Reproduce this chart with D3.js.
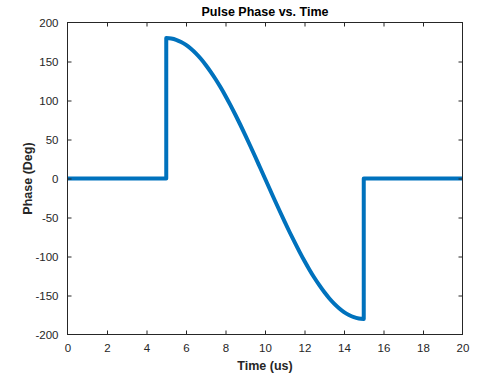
<!DOCTYPE html>
<html>
<head>
<meta charset="utf-8">
<script src="https://cdn.jsdelivr.net/npm/d3@7"></script>
<style>
  html, body { margin: 0; padding: 0; background: #fff; }
  svg { display: block; font-family: "Liberation Sans", Arial, Helvetica, sans-serif; }
</style>
</head>
<body>
<svg id="chart" width="478" height="373"></svg>
<script>
// Pulse phase samples (time in microseconds, phase in degrees)
const time = [0, 5, 5, 5.25, 5.5, 5.75, 6, 6.25, 6.5, 6.75, 7, 7.25, 7.5, 7.75, 8, 8.25, 8.5, 8.75, 9, 9.25, 9.5, 9.75,
              10, 10.25, 10.5, 10.75, 11, 11.25, 11.5, 11.75, 12, 12.25, 12.5, 12.75, 13, 13.25, 13.5, 13.75, 14, 14.25, 14.5, 14.75, 15, 15, 20];
const phase = [0, 0, 180, 179.4, 177.8, 175.0, 171.2, 166.3, 160.4, 153.5, 145.6, 136.8, 127.3, 116.9, 105.8, 94.0, 81.7, 68.9, 55.6, 42.0, 28.2, 14.1,
               0, -14.1, -28.2, -42.0, -55.6, -68.9, -81.7, -94.0, -105.8, -116.9, -127.3, -136.8, -145.6, -153.5, -160.4, -166.3, -171.2, -175.0, -177.8, -179.4, -180, 0, 0];
const xTicks = [0, 2, 4, 6, 8, 10, 12, 14, 16, 18, 20];
const yTicks = [-200, -150, -100, -50, 0, 50, 100, 150, 200];

const svg = d3.select("#chart");
const plotLeft = 67.5, plotRight = 462.5, plotTop = 22.5, plotBottom = 334.5;
const axisColor = "#262626";

const x = d3.scaleLinear().domain([0, 20]).range([plotLeft, plotRight]);
const y = d3.scaleLinear().domain([-200, 200]).range([plotBottom, plotTop]);

// Data line, clipped to the axes box: straight steps, smooth phase sweep in between
svg.append("clipPath").attr("id", "box")
  .append("rect").attr("x", plotLeft).attr("y", plotTop)
  .attr("width", plotRight - plotLeft).attr("height", plotBottom - plotTop);

const pts = time.map((t, i) => [t, phase[i]]);
const sweepStart = 2, sweepEnd = pts.length - 3;  // first/last samples of the sweep
const straight = d3.line().x(d => x(d[0])).y(d => y(d[1]));
const smooth = d3.line().x(d => x(d[0])).y(d => y(d[1])).curve(d3.curveMonotoneX);
const pathD =
  straight(pts.slice(0, sweepStart + 1)) +
  smooth(pts.slice(sweepStart, sweepEnd + 1)).replace(/^M/, "L") +
  straight(pts.slice(sweepEnd)).replace(/^M/, "L");

svg.append("path")
  .attr("clip-path", "url(#box)")
  .attr("fill", "none")
  .attr("stroke", "#0072BD")
  .attr("stroke-width", 4)
  .attr("stroke-linejoin", "round")
  .attr("d", pathD);

// Axes with inward ticks on all four sides
const plain = d => String(d);
function styleAxis(g) {
  g.select(".domain").remove();
  g.selectAll(".tick line").attr("stroke", axisColor);
  g.selectAll(".tick text").attr("fill", axisColor).style("font-size", "11.5px");
}

svg.append("g").attr("transform", `translate(0,${plotBottom})`)
  .call(d3.axisBottom(x).tickValues(xTicks).tickFormat(plain).tickSizeInner(-4).tickSizeOuter(0).tickPadding(9))
  .call(styleAxis)
  .call(g => g.selectAll(".tick").filter(d => d === 0 || d === 20).select("line").remove());

svg.append("g").attr("transform", `translate(0,${plotTop})`)
  .call(d3.axisTop(x).tickValues(xTicks).tickSizeInner(-4).tickSizeOuter(0).tickFormat(""))
  .call(styleAxis)
  .call(g => g.selectAll(".tick").filter(d => d === 0 || d === 20).select("line").remove());

svg.append("g").attr("transform", `translate(${plotLeft},0)`)
  .call(d3.axisLeft(y).tickValues(yTicks).tickFormat(plain).tickSizeInner(-4).tickSizeOuter(0).tickPadding(9))
  .call(styleAxis)
  .call(g => g.selectAll(".tick").filter(d => d === -200 || d === 200).select("line").remove());

svg.append("g").attr("transform", `translate(${plotRight},0)`)
  .call(d3.axisRight(y).tickValues(yTicks).tickSizeInner(-4).tickSizeOuter(0).tickFormat(""))
  .call(styleAxis)
  .call(g => g.selectAll(".tick").filter(d => d === -200 || d === 200).select("line").remove());

// Axes box
svg.append("rect")
  .attr("x", plotLeft).attr("y", plotTop)
  .attr("width", plotRight - plotLeft).attr("height", plotBottom - plotTop)
  .attr("fill", "none").attr("stroke", axisColor).attr("stroke-width", 1);

// Title and axis labels
svg.append("text")
  .attr("x", (plotLeft + plotRight) / 2).attr("y", 16)
  .attr("text-anchor", "middle")
  .style("font-size", "12.5px").style("font-weight", "bold").attr("fill", "#000")
  .text("Pulse Phase vs. Time");

svg.append("text")
  .attr("x", (plotLeft + plotRight) / 2).attr("y", 370)
  .attr("text-anchor", "middle")
  .style("font-size", "12.5px").style("font-weight", "bold").attr("fill", axisColor)
  .text("Time (us)");

svg.append("text")
  .attr("transform", `translate(32,${(plotTop + plotBottom) / 2}) rotate(-90)`)
  .attr("text-anchor", "middle")
  .style("font-size", "12.5px").style("font-weight", "bold").attr("fill", axisColor)
  .text("Phase (Deg)");
</script>
</body>
</html>
